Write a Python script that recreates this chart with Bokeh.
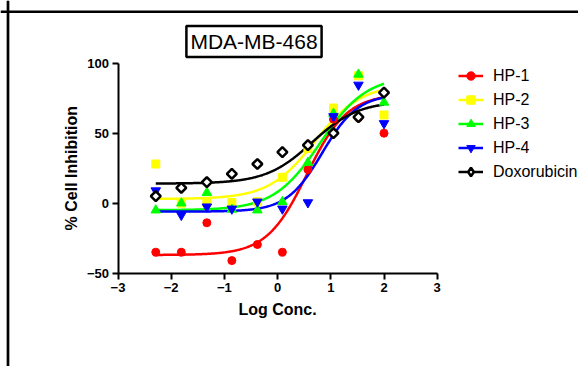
import numpy as np
from bokeh.plotting import figure
from bokeh.models import (Range1d, LinearAxis, FixedTicker, Label, Legend,
                          LegendItem, Span)
from bokeh.embed import file_html
from bokeh.resources import INLINE

# ---------------- data ----------------
log_conc = [-2.29, -1.81, -1.33, -0.86, -0.38, 0.09, 0.57, 1.05, 1.52, 2.0]
hp1 = [-35, -35, -14, -41, -29.5, -35, 24, 60, 61, 50]
hp2 = [28, 0, 0.5, 0.5, 1, 18.5, 39, 68, 91, 63]
hp3 = [-5, 0, 7.5, -4.5, -5, 1, 29, 64, 92, 72]
hp4 = [9, -8.5, -2.5, -4, 1, -4, 0.5, 62, 84.5, 57]
dox = [5, 11, 15, 21, 28, 36.5, 41.5, 50, 61.5, 79]

series_names = ["HP-1", "HP-2", "HP-3", "HP-4", "Doxorubicin"]
series_values = [hp1, hp2, hp3, hp4, dox]

# four-parameter logistic fit parameters
fit_bottom = [-37, 3, -5, -6, 14]
fit_top = [78, 85, 91, 78, 73]
fit_logec50 = [0.55, 0.70, 0.80, 0.84, 0.65]
fit_hill = [1.15, 1.0, 1.0, 1.3, 1.0]

x_ticks = [-3, -2, -1, 0, 1, 2, 3]
y_ticks = [-50, 0, 50, 100]

# ---------------- styling ----------------
colors = ["#FF0000", "#FFFF00", "#00FF00", "#0000FF", "#000000"]
markers = ["circle", "square", "triangle", "inverted_triangle", "square"]
msizes = [8, 8, 9.5, 9.5, 7]
FONT = "Liberation Sans"

W, H = 578, 366
PX_X = 53.2          # pixels per x unit
PX_Y = 1.4           # pixels per y unit
X0_PIX = 117.5       # canvas pixel of x=-3
Y100_PIX = 62.7      # canvas pixel of y=100 (from top)

x_start = -3 - X0_PIX / PX_X
x_end = x_start + W / PX_X
y_end = 100 + Y100_PIX / PX_Y
y_start = y_end - H / PX_Y

def xd(px):
    return x_start + px / PX_X

def yd(py):
    return y_end - py / PX_Y

p = figure(width=W, height=H, x_range=Range1d(x_start, x_end),
           y_range=Range1d(y_start, y_end), output_backend="svg",
           toolbar_location=None, x_axis_type=None, y_axis_type=None,
           min_border=0)
p.outline_line_color = None
p.background_fill_color = "white"
p.border_fill_color = "white"

def style_axis(ax):
    ax.axis_line_width = 2
    ax.axis_line_color = "black"
    ax.major_tick_line_width = 2
    ax.major_tick_line_color = "black"
    ax.major_tick_out = 6
    ax.major_tick_in = 0
    ax.minor_tick_line_color = None
    ax.major_label_text_font = FONT
    ax.major_label_text_font_style = "bold"
    ax.major_label_text_font_size = "13px"
    ax.major_label_text_color = "black"

yaxis = LinearAxis(fixed_location=-3, bounds=(-50, 100),
                   ticker=FixedTicker(ticks=y_ticks))
style_axis(yaxis)
yaxis.major_label_standoff = 3
p.add_layout(yaxis, "left")

xaxis = LinearAxis(fixed_location=-50, bounds=(-3, 3),
                   ticker=FixedTicker(ticks=x_ticks))
style_axis(xaxis)
xaxis.major_label_standoff = 4
p.add_layout(xaxis, "below")

# page frame
p.add_layout(Span(location=xd(7.5), dimension="height", line_color="black", line_width=2.7))
p.add_layout(Span(location=yd(11.3), dimension="width", line_color="black", line_width=2.5))

# curves and points
items = []
xc = np.linspace(log_conc[0], log_conc[-1], 300)
line_rs = []
for i in range(5):
    yc = fit_bottom[i] + (fit_top[i] - fit_bottom[i]) / (1 + 10 ** ((fit_logec50[i] - xc) * fit_hill[i]))
    lr = p.line(xc, yc, line_color=colors[i], line_width=2.5)
    line_rs.append(lr)

for i in range(5):
    if i == 4:
        sr = p.scatter(log_conc, series_values[i], marker="square", size=msizes[i],
                       angle=np.pi / 4, fill_color="white", line_color="black",
                       line_width=2.5)
        # legend swatch: diamond marker (not drawn in the plot)
        lg = p.scatter(x=[float("nan")], y=[float("nan")], marker="diamond", size=11,
                       fill_color="white", line_color="black", line_width=2.5)
        items.append(LegendItem(label=series_names[i], renderers=[line_rs[i], lg]))
    else:
        sr = p.scatter(log_conc, series_values[i], marker=markers[i], size=msizes[i],
                       fill_color=colors[i], line_color=colors[i], line_width=1)
        items.append(LegendItem(label=series_names[i], renderers=[line_rs[i], sr]))

legend = Legend(items=items, location=(458, H - 182), glyph_width=25, glyph_height=21,
                label_height=21, spacing=3, padding=0, margin=0,
                border_line_color=None, background_fill_alpha=0,
                label_standoff=10, label_text_font=FONT,
                label_text_font_size="16px", label_text_color="black")
p.add_layout(legend)

# title box
p.add_layout(Label(x=xd(253.5), y=yd(41), text="MDA-MB-468", text_align="center",
                   text_baseline="middle", text_font=FONT, text_font_size="21px",
                   text_color="black", border_line_color="black",
                   border_line_width=2.5, background_fill_color="white", padding=4))

# axis titles
p.add_layout(Label(x=0, y=yd(309), text="Log Conc.", text_align="center",
                   text_baseline="middle", text_font=FONT, text_font_size="16px",
                   text_font_style="bold", text_color="black"))
p.add_layout(Label(x=xd(71), y=25, text="% Cell Inhibition", text_align="center",
                   text_baseline="middle", angle=np.pi / 2, text_font=FONT,
                   text_font_size="16px", text_font_style="bold", text_color="black"))

open("out.html", "w").write(file_html(p, INLINE))
